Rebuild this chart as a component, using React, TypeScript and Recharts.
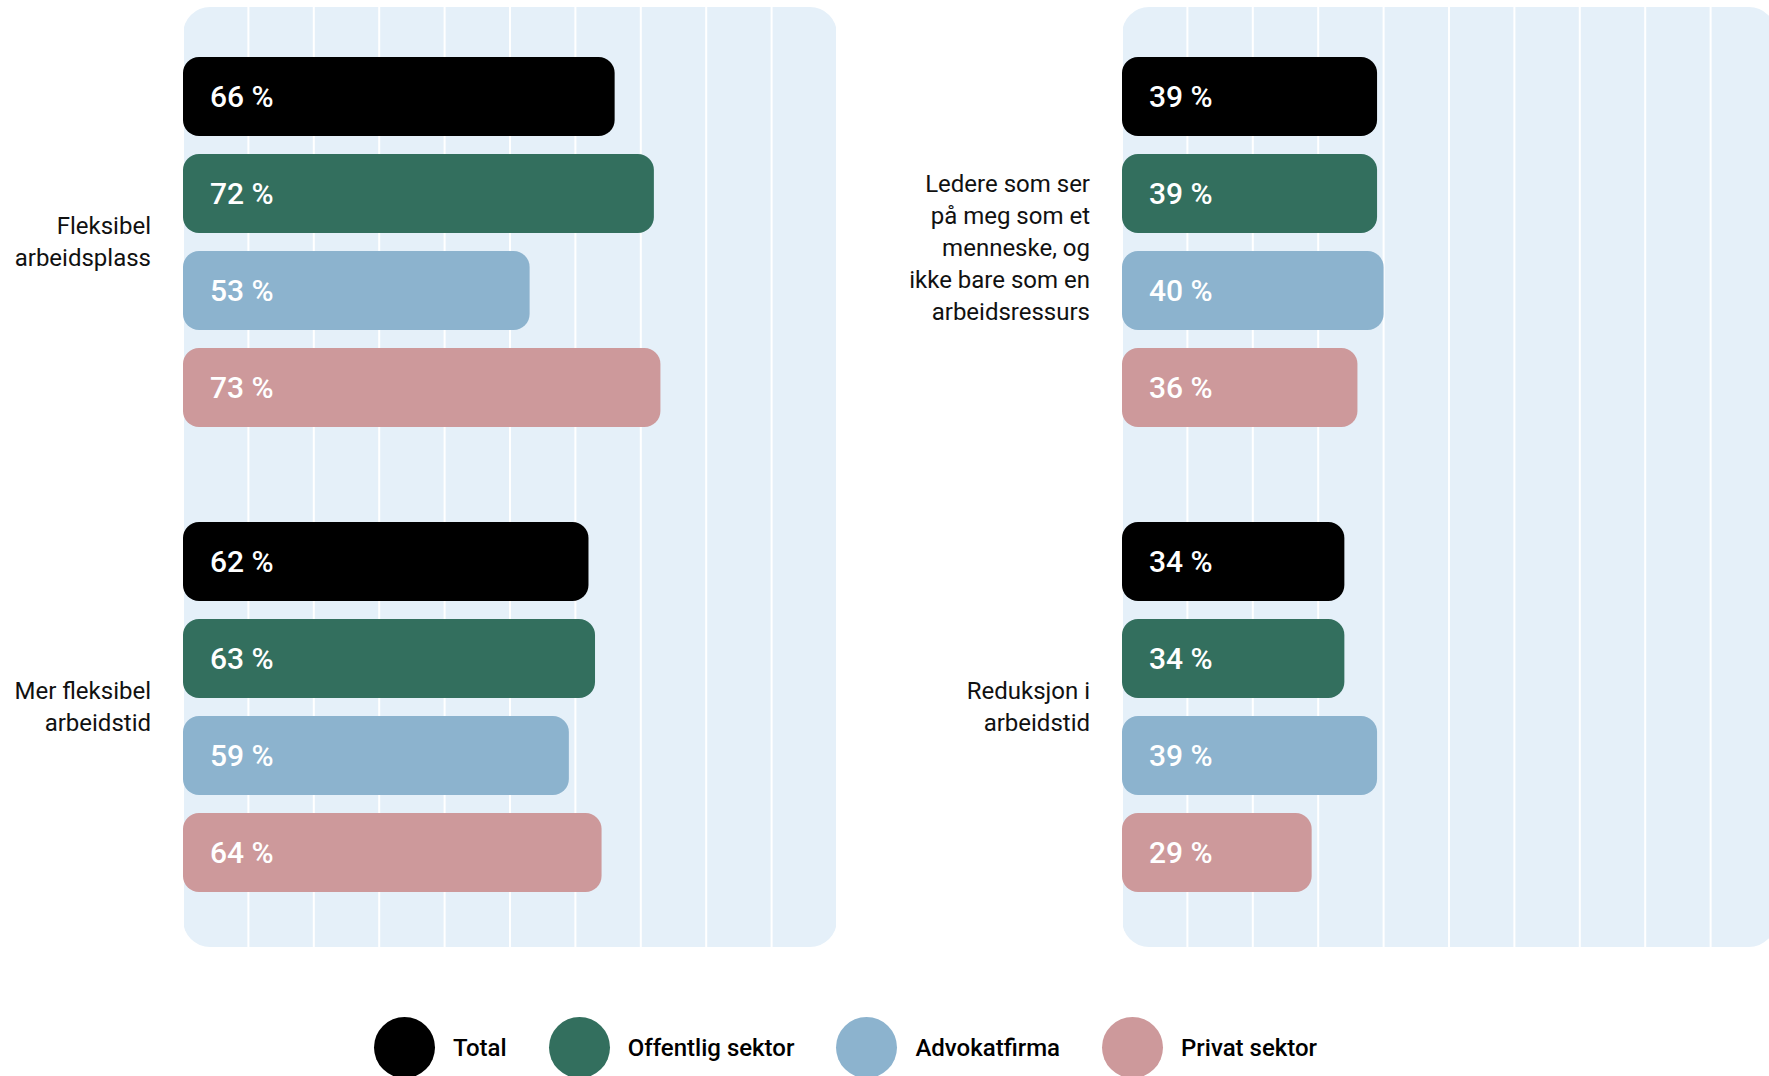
import React from "react";
import { BarChart, Bar, XAxis, YAxis, CartesianGrid, LabelList } from "recharts";

// left panel
const categoriesLeft = ["Fleksibel arbeidsplass", "Mer fleksibel arbeidstid"];
const totalLeft = [66, 62];
const offentligLeft = [72, 63];
const advokatLeft = [53, 59];
const privatLeft = [73, 64];

// right panel
const categoriesRight = [
  "Ledere som ser på meg som et menneske, og ikke bare som en arbeidsressurs",
  "Reduksjon i arbeidstid",
];
const totalRight = [39, 34];
const offentligRight = [39, 34];
const advokatRight = [40, 39];
const privatRight = [36, 29];

// how the category labels wrap
const labelLines: Record<string, string[]> = {
  "Fleksibel arbeidsplass": ["Fleksibel", "arbeidsplass"],
  "Mer fleksibel arbeidstid": ["Mer fleksibel", "arbeidstid"],
  "Ledere som ser på meg som et menneske, og ikke bare som en arbeidsressurs": [
    "Ledere som ser",
    "på meg som et",
    "menneske, og",
    "ikke bare som en",
    "arbeidsressurs",
  ],
  "Reduksjon i arbeidstid": ["Reduksjon i", "arbeidstid"],
};

const seriesKeys = ["total", "offentlig", "advokat", "privat"];
const seriesNames = ["Total", "Offentlig sektor", "Advokatfirma", "Privat sektor"];
const seriesColors = ["#000000", "#336F5E", "#8CB3CE", "#CD999B"];
const gridTicks = [10, 20, 30, 40, 50, 60, 70, 80, 90];

const PANEL_BG = "#E5F0F9";

const buildRows = (cats: string[], t: number[], o: number[], a: number[], p: number[]) =>
  cats.map((name, i) => ({ name, total: t[i], offentlig: o[i], advokat: a[i], privat: p[i] }));

const rowsLeft = buildRows(categoriesLeft, totalLeft, offentligLeft, advokatLeft, privatLeft);
const rowsRight = buildRows(categoriesRight, totalRight, offentligRight, advokatRight, privatRight);

const CategoryTick = (props: any) => {
  const { x, y, payload } = props;
  const lines = labelLines[payload.value] ?? [payload.value];
  const lh = 32;
  // long labels sit a little low in the original
  const shift = (lines.length - 2) * 2;
  return (
    <text x={x} y={y} textAnchor="end" fill="#111" fontSize={24} fontFamily="Roboto">
      {lines.map((l, i) => (
        <tspan key={i} x={x} dy={i === 0 ? -((lines.length - 1) / 2) * lh + 8 + shift : lh}>
          {l}
        </tspan>
      ))}
    </text>
  );
};

const Panel = ({ data, axisWidth }: { data: any[]; axisWidth: number }) => (
  <BarChart
    width={axisWidth + 654 + 20}
    height={960}
    data={data}
    layout="vertical"
    margin={{ top: 7, right: 20, bottom: 13, left: 0 }}
    barSize={79}
    barGap={18}
  >
    <CartesianGrid horizontal={false} stroke="#ffffff" strokeWidth={2} />
    <XAxis type="number" domain={[0, 100]} ticks={gridTicks} hide />
    <YAxis
      type="category"
      dataKey="name"
      width={axisWidth}
      axisLine={false}
      tickLine={false}
      tickSize={0}
      tickMargin={32}
      padding={{ top: 2, bottom: 8 }}
      tick={<CategoryTick />}
      interval={0}
    />
    {seriesKeys.map((k, i) => (
      <Bar key={k} dataKey={k} name={seriesNames[i]} fill={seriesColors[i]} radius={16} isAnimationActive={false}>
        <LabelList
          dataKey={k}
          position="insideLeft"
          offset={27}
          formatter={(v: any) => `${v} %`}
          fill="#ffffff"
          fontSize={30}
          fontFamily="Roboto"
          fontWeight={500}
        />
      </Bar>
    ))}
  </BarChart>
);

export default function App() {
  return (
    <div
      style={{
        position: "absolute",
        left: 0,
        top: 0,
        width: 1769,
        height: 1076,
        overflow: "hidden",
        background: "#fff",
        fontFamily: "Roboto",
      }}
    >
      <div style={{ position: "absolute", left: 183, top: 7, width: 654, height: 940, borderRadius: 27, background: PANEL_BG }} />
      <div style={{ position: "absolute", left: 1122, top: 7, width: 654, height: 940, borderRadius: 27, background: PANEL_BG }} />
      <div style={{ position: "absolute", left: 0, top: 0 }}>
        <Panel data={rowsLeft} axisWidth={183} />
      </div>
      <div style={{ position: "absolute", left: 892, top: 0 }}>
        <Panel data={rowsRight} axisWidth={230} />
      </div>
      <div style={{ position: "absolute", left: 374, top: 1017, display: "flex", alignItems: "center" }}>
        {seriesNames.map((n, i) => (
          <div key={n} style={{ display: "flex", alignItems: "center", marginRight: 42 }}>
            <div style={{ width: 61, height: 61, borderRadius: "50%", background: seriesColors[i], marginRight: 18 }} />
            <span style={{ fontSize: 24, fontWeight: 500, color: "#000" }}>{n}</span>
          </div>
        ))}
      </div>
    </div>
  );
}
